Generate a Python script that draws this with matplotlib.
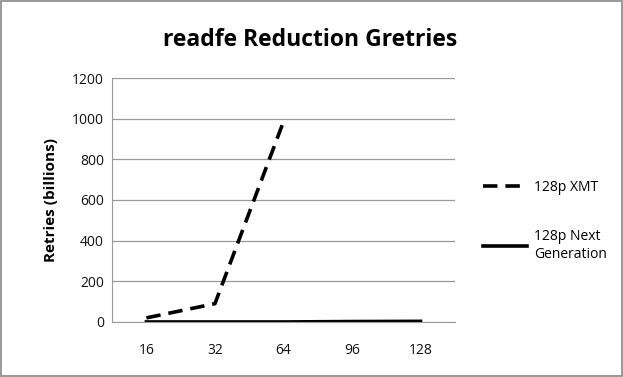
import numpy as np
import matplotlib.pyplot as plt
from matplotlib.patches import Rectangle

categories = ["16", "32", "64", "96", "128"]
xmt = [20, 90, 985, np.nan, np.nan]
next_gen = [0, 0, 0, 2, 3]

plt.rcParams["font.family"] = ["Open Sans", "DejaVu Sans"]

fig = plt.figure(figsize=(6.23, 3.77), dpi=100)
ax = fig.add_axes([0.18, 0.146, 0.55, 0.647])

x = np.arange(len(categories))
ax.plot(x, xmt, color="black", linestyle=(0, (4, 2.2)), linewidth=2.6, label="128p XMT")
ax.plot(x, next_gen, color="black", linestyle="-", linewidth=2.6, label="128p Next\nGeneration")

ax.set_xlim(-0.5, len(categories) - 0.5)
ax.set_ylim(0, 1200)
ax.set_yticks(range(0, 1201, 200))
ax.set_xticks(x)
ax.set_xticklabels(categories)
ax.tick_params(length=0, labelsize=10, colors="#111111")
ax.tick_params(axis="x", pad=15)
ax.tick_params(axis="y", pad=6)
ax.yaxis.grid(True, color="#999999", linewidth=0.9)
ax.set_axisbelow(True)
for side in ["top", "right"]:
    ax.spines[side].set_visible(False)
ax.spines["left"].set_color("#999999")
ax.spines["bottom"].set_color("#999999")
ax.set_ylabel("Retries (billions)", fontsize=11, fontweight="bold", labelpad=10)

fig.text(0.498, 0.893, "readfe Reduction Gretries", ha="center", va="center",
         fontsize=16.5, fontweight="bold")

fig.legend(loc="center left", bbox_to_anchor=(0.755, 0.415), frameon=False,
           fontsize=10, handlelength=3.2, labelspacing=2.5, handletextpad=0.5)

fig.patches.append(Rectangle((0.002, 0.002), 0.996, 0.996, transform=fig.transFigure,
                             fill=False, edgecolor="#888888", linewidth=1.2))

fig.savefig("out.png", dpi=100)
